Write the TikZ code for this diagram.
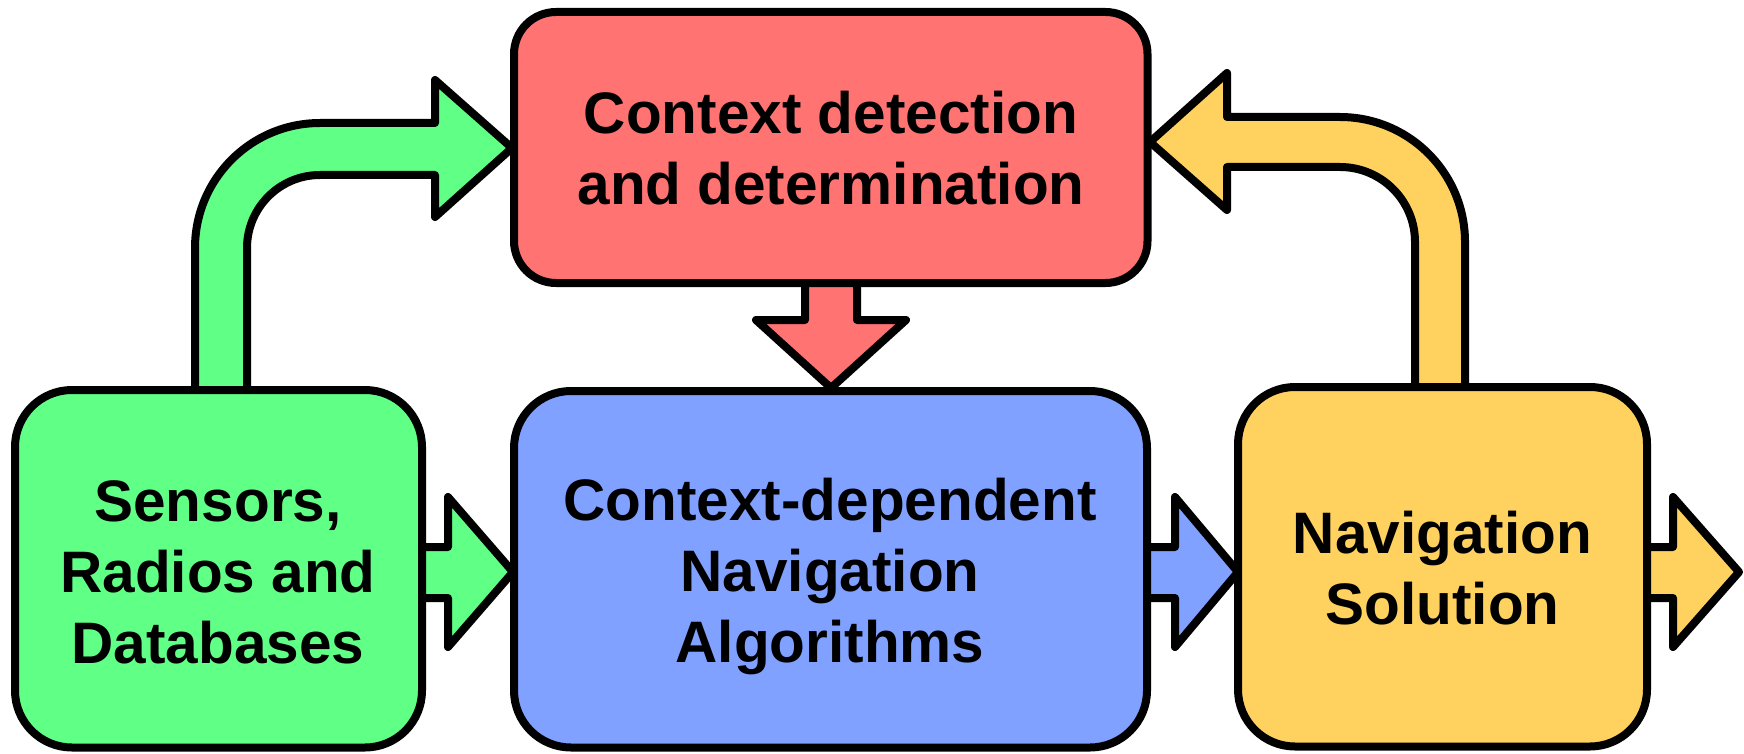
\documentclass[tikz,border=0pt]{standalone}
\usepackage{fontspec}
\setmainfont{Liberation Sans}
\definecolor{cred}{RGB}{255,115,115}
\definecolor{cgreen}{RGB}{96,255,134}
\definecolor{cblue}{RGB}{128,161,255}
\definecolor{cyellow}{RGB}{255,210,95}
\tikzset{
  box/.style={draw=black, line width=8pt, rounded corners=57pt, inner sep=0pt},
  label text/.style={align=center, font=\fontsize{58.5}{71}\selectfont\bfseries, inner sep=0pt},
  blockarrow/.style={draw=black, line width=8pt, line join=round},
}
\begin{document}
\begin{tikzpicture}[x=1pt,y=-1pt]
\useasboundingbox (0,0) rectangle (1744,754);
% block arrows (drawn first, boxes on top)
\filldraw[blockarrow, fill=cgreen] (195,390) -- (195,248) arc[start angle=180, end angle=270, radius=125] -- (435,123) -- (435,80) -- (512,148) -- (435,217) -- (435,175) -- (320,175) arc[start angle=270, end angle=180, radius=73] -- (247,390);
\filldraw[blockarrow, fill=cyellow] (1465,387) -- (1465,242) arc[start angle=0, end angle=-90, radius=125] -- (1227,117) -- (1227,73) -- (1150,142) -- (1227,210) -- (1227,167) -- (1340,167) arc[start angle=-90, end angle=0, radius=75] -- (1415,387);
\filldraw[blockarrow, fill=cred] (805,280) -- (805,320) -- (756,320) -- (831,388) -- (906,320) -- (857,320) -- (857,280);
\filldraw[blockarrow, fill=cgreen] (418,547) -- (448,547) -- (448,497) -- (513,572) -- (448,647) -- (448,598) -- (418,598);
\filldraw[blockarrow, fill=cblue] (1142,547) -- (1175,547) -- (1175,497) -- (1238,572) -- (1175,647) -- (1175,598) -- (1142,598);
\filldraw[blockarrow, fill=cyellow] (1642,547) -- (1673,547) -- (1673,497) -- (1739,572) -- (1673,647) -- (1673,598) -- (1642,598);
% boxes
\node[box, fill=cred, minimum width=633.5pt, minimum height=271pt, rounded corners=42pt] (ctx) at (830.75,147.5) {};
\node[box, fill=cgreen, minimum width=407pt, minimum height=357.5pt] (sens) at (218.5,568.75) {};
\node[box, fill=cblue, minimum width=633pt, minimum height=356.5pt] (alg) at (830.5,569.25) {};
\node[box, fill=cyellow, minimum width=409pt, minimum height=359.5pt] (sol) at (1442.5,566.75) {};
% texts
\node[label text] (ctxT) at (831,148.5) {Context detection\\and determination};
\node[label text] (sensT) at (218,572) {Sensors,\\Radios and\\Databases};
\node[label text] (algT) at (830,576) {Context-dependent\\Navigation\\Algorithms};
\node[label text] (solT) at (1442.5,568) {Navigation\\Solution};
\end{tikzpicture}
\end{document}
